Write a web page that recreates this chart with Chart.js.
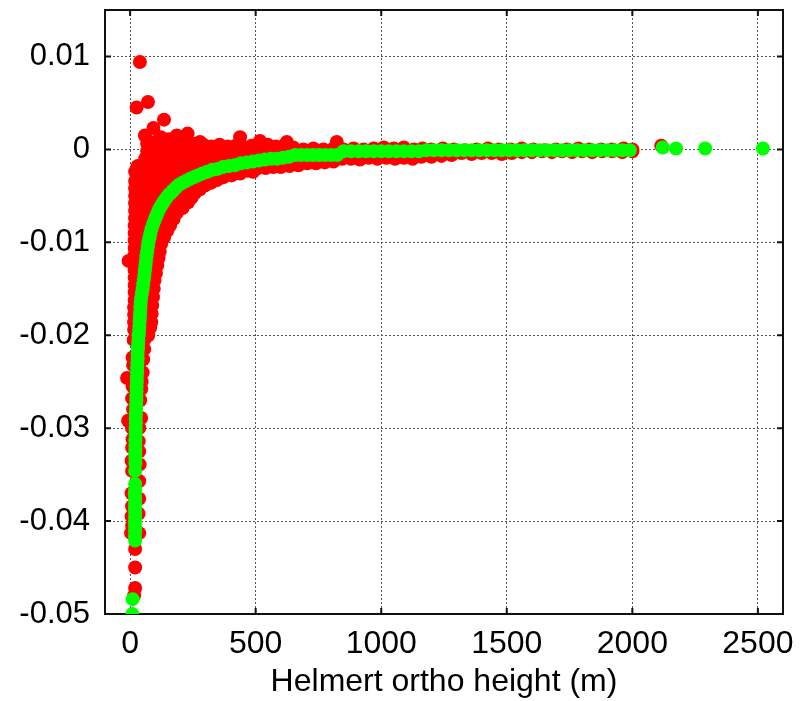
<!DOCTYPE html>
<html>
<head>
<meta charset="utf-8">
<script src="https://cdn.jsdelivr.net/npm/chart.js@4"></script>
<style>
  html, body { margin: 0; padding: 0; background: #fff; }
  canvas { display: block; }
</style>
</head>
<body>
<canvas id="chart" width="808" height="701"></canvas>
<script>
// eixos
const xTicks = [0, 500, 1000, 1500, 2000, 2500];
const xTickLabels = ['0', '500', '1000', '1500', '2000', '2500'];
const yTicks = [-0.05, -0.04, -0.03, -0.02, -0.01, 0, 0.01];
const yTickLabels = ['-0.05', '-0.04', '-0.03', '-0.02', '-0.01', '0', '0.01'];
const xTitle = 'Helmert ortho height (m)';

// pontos verdes [altura, valor]
const greenPts = [
  [9,-0.0500],[10,-0.0484],
  [20,-0.0421],[19,-0.0416],[20,-0.0411],[20,-0.0406],[19,-0.0401],[20,-0.0396],[20,-0.0391],[19,-0.0386],[20,-0.0381],[20,-0.0376],[19,-0.0371],[20,-0.0367],
  [20,-0.0360],[20,-0.0346],
  [21,-0.0338],[21,-0.0333],[20,-0.0328],[21,-0.0323],[21,-0.0318],[21,-0.0313],[22,-0.0308],[22,-0.0304],
  [22,-0.0300],[23,-0.0295],[22,-0.0290],[23,-0.0285],[24,-0.0280],[24,-0.0275],[25,-0.0270],[25,-0.0265],[26,-0.0260],[26,-0.0255],
  [27,-0.0250],[27,-0.0245],[28,-0.0240],[28,-0.0235],[29,-0.0230],[30,-0.0225],[30,-0.0220],[31,-0.0215],[32,-0.0210],[33,-0.0205],
  [34,-0.0200],[36,-0.0195],[37,-0.0190],[38,-0.0185],[39,-0.0180],[40,-0.0175],[41,-0.0170],[42,-0.0165],[44,-0.0160],[47,-0.0155],
  [50,-0.0150],[52,-0.0145],[55,-0.0140],[57,-0.0135],[59,-0.0130],[61,-0.0125],[63,-0.0120],[65,-0.0115],[68,-0.0110],[70,-0.0105],
  [73,-0.0100],[77,-0.0095],[81,-0.0090],[86,-0.0085],[92,-0.0080],[98,-0.0076],[104,-0.0072],[110,-0.0068],[116,-0.0064],[123,-0.0061],
  [130,-0.0058],[137,-0.0055],[145,-0.0052],[153,-0.0049],[162,-0.0047],[172,-0.0044],[183,-0.0041],[195,-0.0038],[208,-0.0036],[222,-0.0034],
  [237,-0.0032],[253,-0.0030],[270,-0.0028],[288,-0.0026],[307,-0.0024],[327,-0.0022],[348,-0.0021],[370,-0.0019],[393,-0.0018],[417,-0.0017],
  [441,-0.0015],[465,-0.0014],[489,-0.0013],[513,-0.0012],[537,-0.0011],[561,-0.0010],[585,-0.0010],[609,-0.0009],[633,-0.0008],
  [657,-0.0006],[681,-0.0006],[705,-0.0006],[729,-0.0006],[753,-0.0006],[777,-0.0006],[801,-0.0006],[825,-0.0006],
  [850,-0.0002],[880,-0.0002],[910,-0.0002],[940,-0.0002],[970,-0.0002],[1000,-0.0002],[1030,-0.0002],[1060,-0.0002],[1090,-0.0002],[1120,-0.0002],[1150,-0.0002],
  [1180,-0.0001],[1210,-0.0001],[1240,-0.0001],[1270,-0.0001],[1300,-0.0001],[1330,-0.0001],[1360,-0.0001],[1390,-0.0001],[1420,-0.0001],[1450,-0.0001],
  [1480,-0.0001],[1510,-0.0001],[1540,-0.0001],[1570,-0.0001],[1600,-0.0001],[1630,-0.0001],[1660,-0.0001],[1690,-0.0001],[1720,-0.0001],[1750,-0.0001],
  [1780,-0.0001],[1810,-0.0001],[1840,-0.0001],[1870,-0.0001],[1900,-0.0001],[1930,-0.0001],[1960,-0.0001],[1990,-0.0001],
  [2121,0.0002],[2174,0.0001],[2290,0.0001],[2520,0.0001]
];

// pontos vermelhos [altura, valor]
const redPts = [
  // acima
  [39,0.0094],[26,0.0045],[71,0.0051],[135,0.0032],[93,0.0023],[59,0.0015],[122,0.0013],[186,0.0015],[229,0.0017],[155,0.0011],
  [278,0.0008],[438,0.0013],[517,0.0009],[624,0.0008],[823,0.0008],
  [68,0.0006],[100,0.0008],[132,0.0005],[164,0.0007],[196,0.0006],[228,0.0004],[260,0.0006],[292,0.0005],[324,0.0003],[356,0.0005],
  [388,0.0003],[420,0.0004],[452,0.0002],[484,0.0004],[516,0.0003],[548,0.0005],[580,0.0003],[612,0.0004],
  [650,0.0002],[690,0.0000],[730,0.0001],[770,0.0000],[810,0.0001],[850,0.0000],[890,0.0001],[930,0.0000],[970,0.0001],[1010,0.0002],
  [1050,0.0001],[1090,0.0002],[1130,0.0000],[1165,0.0001],
  [1200,0.0000],[1245,0.0001],[1290,0.0000],[1335,-0.0001],[1380,0.0000],[1425,0.0001],[1470,0.0000],[1515,0.0000],[1560,0.0001],[1605,0.0000],
  [1650,-0.0001],[1695,0.0000],[1740,0.0000],[1785,0.0001],[1830,0.0000],[1875,0.0000],[1920,0.0000],[1965,0.0001],[2000,0.0000],[2115,0.0004],
  // dentro da curva
  [68,-0.0002],[100,-0.0002],[132,-0.0003],[164,-0.0002],[196,-0.0002],[228,-0.0003],[260,-0.0002],[292,-0.0002],[324,-0.0003],[356,-0.0002],
  [388,-0.0002],[420,-0.0003],[452,-0.0002],[484,-0.0002],[516,-0.0003],[548,-0.0002],[580,-0.0002],[612,-0.0003],
  [60,-0.0010],[92,-0.0010],[124,-0.0010],[156,-0.0010],[188,-0.0010],[220,-0.0010],[252,-0.0010],[284,-0.0010],[316,-0.0010],[348,-0.0010],
  [380,-0.0010],[412,-0.0010],[444,-0.0010],[476,-0.0010],[508,-0.0010],[540,-0.0010],
  [30,-0.0018],[62,-0.0018],[94,-0.0018],[126,-0.0018],[158,-0.0018],[190,-0.0018],[222,-0.0018],[254,-0.0018],[286,-0.0018],[318,-0.0018],
  [350,-0.0018],[382,-0.0018],
  [20,-0.0024],[56,-0.0026],[88,-0.0026],[120,-0.0026],[152,-0.0026],[184,-0.0026],[216,-0.0026],[248,-0.0026],[280,-0.0026],
  [20,-0.0034],[52,-0.0034],[84,-0.0034],[116,-0.0034],[148,-0.0034],[180,-0.0034],[212,-0.0034],
  [20,-0.0042],[52,-0.0042],[84,-0.0042],[116,-0.0042],[148,-0.0042],[180,-0.0042],
  [20,-0.0050],[52,-0.0050],[84,-0.0050],[116,-0.0050],[148,-0.0050],
  [20,-0.0058],[52,-0.0058],[84,-0.0058],[116,-0.0058],
  [20,-0.0066],[52,-0.0066],[84,-0.0066],[108,-0.0066],
  [20,-0.0074],[52,-0.0074],[84,-0.0074],
  [18,-0.0082],[50,-0.0082],[80,-0.0082],
  [18,-0.0090],[48,-0.0090],[74,-0.0090],
  [18,-0.0098],[46,-0.0098],[70,-0.0098],
  [18,-0.0106],[42,-0.0106],[64,-0.0106],
  [18,-0.0114],[40,-0.0114],[62,-0.0114],
  [-6,-0.0120],[18,-0.0122],[38,-0.0122],[58,-0.0122],
  [18,-0.0130],[36,-0.0130],[56,-0.0130],
  [18,-0.0138],[34,-0.0138],[52,-0.0138],
  [18,-0.0146],[32,-0.0146],[50,-0.0146],
  [18,-0.0154],[30,-0.0154],
  [18,-0.0162],[30,-0.0162],
  [16,-0.0170],[30,-0.0170],
  [16,-0.0178],[28,-0.0178],
  [16,-0.0186],[28,-0.0186],
  [16,-0.0194],[28,-0.0194],
  // parte vertical
  [14,-0.0205],[10,-0.0224],[-12,-0.0246],[8,-0.0268],[-8,-0.0292],[8,-0.0300],[8,-0.0321],[6,-0.0335],[8,-0.0346],[6,-0.0370],
  [8,-0.0384],[6,-0.0395],[4,-0.0413],[8,-0.0405],[12,-0.0232],[10,-0.0255],[12,-0.0280],[10,-0.0312],
  [58,-0.0204],[56,-0.0215],[52,-0.0226],[50,-0.0240],[46,-0.0250],[44,-0.0258],[40,-0.0270],[44,-0.0289],[36,-0.0300],[34,-0.0314],
  [36,-0.0325],[38,-0.0339],[36,-0.0357],[36,-0.0376],[34,-0.0392],[36,-0.0413],
  [20,-0.0430],[20,-0.0450],[20,-0.0472],[16,-0.0480],
  // abaixo / fora da curva
  [72,-0.0200],[80,-0.0192],[84,-0.0186],[86,-0.0177],[88,-0.0168],[91,-0.0159],[94,-0.0150],[97,-0.0141],[103,-0.0133],[108,-0.0125],
  [113,-0.0117],[118,-0.0110],[123,-0.0102],[135,-0.0095],[147,-0.0088],[159,-0.0082],[173,-0.0075],[187,-0.0068],[209,-0.0063],[231,-0.0057],
  [245,-0.0052],[258,-0.0047],[278,-0.0043],[298,-0.0039],[322,-0.0036],[346,-0.0033],[370,-0.0030],[404,-0.0028],[438,-0.0026],[468,-0.0023],
  [490,-0.0024],[510,-0.0020],[540,-0.0020],[570,-0.0019],[600,-0.0019],[635,-0.0018],[670,-0.0017],[705,-0.0015],[740,-0.0015],[775,-0.0014],
  [810,-0.0013],[845,-0.0010],[880,-0.0010],[915,-0.0011],[950,-0.0009],[985,-0.0010],[1020,-0.0009],[1055,-0.0010],[1090,-0.0009],[1125,-0.0010],
  [1160,-0.0008],[1200,-0.0008],[1240,-0.0007],[1280,-0.0006],[1320,-0.0004],[1360,-0.0005],[1400,-0.0004],[1440,-0.0004],[1480,-0.0005],[1520,-0.0004],
  [1560,-0.0003],[1600,-0.0003],[1640,-0.0002],[1680,-0.0003],[1720,-0.0002],[1760,-0.0003],[1800,-0.0002],[1840,-0.0003],[1880,-0.0002],[1920,-0.0002],
  [1960,-0.0003],[2000,-0.0002],
  [110,-0.0089],[128,-0.0078],[141,-0.0071],[155,-0.0065],[171,-0.0058],[190,-0.0053],[213,-0.0047],[240,-0.0040],[275,-0.0035],[305,-0.0031],
  [348,-0.0026],[395,-0.0023],[442,-0.0020]
];

const fontFam = '"Liberation Sans", Arial, sans-serif';

// moldura preta com marcas para dentro
const frame = {
  id: 'frame',
  beforeDatasetsDraw(chart) {
    const { ctx, chartArea: a, scales: { x, y } } = chart;
    ctx.save();
    ctx.strokeStyle = '#111';
    ctx.lineWidth = 2;
    ctx.strokeRect(a.left, a.top, a.right - a.left, a.bottom - a.top);
    ctx.beginPath();
    xTicks.forEach(v => {
      const px = x.getPixelForValue(v);
      ctx.moveTo(px, a.bottom); ctx.lineTo(px, a.bottom - 6);
      ctx.moveTo(px, a.top); ctx.lineTo(px, a.top + 6);
    });
    yTicks.forEach(v => {
      const py = y.getPixelForValue(v);
      ctx.moveTo(a.left, py); ctx.lineTo(a.left + 6, py);
      ctx.moveTo(a.right, py); ctx.lineTo(a.right - 6, py);
    });
    ctx.stroke();
    ctx.restore();
  }
};

const toXY = pts => pts.map(p => ({ x: p[0], y: p[1] }));

new Chart(document.getElementById('chart').getContext('2d'), {
  type: 'scatter',
  data: {
    datasets: [
      {
        label: 'modelo',
        data: toXY(greenPts),
        backgroundColor: '#00ff00',
        borderWidth: 0,
        pointRadius: 7,
        order: 0
      },
      {
        label: 'observado',
        data: toXY(redPts),
        backgroundColor: '#ff0000',
        borderWidth: 0,
        pointRadius: 7,
        order: 1
      }
    ]
  },
  options: {
    responsive: false,
    animation: false,
    layout: { padding: { top: 10, right: 25, left: 0, bottom: 0 } },
    plugins: { legend: { display: false }, tooltip: { enabled: false } },
    scales: {
      x: {
        type: 'linear',
        min: -100,
        max: 2600,
        afterBuildTicks: s => { s.ticks = xTicks.map(v => ({ value: v })); },
        afterFit: s => { s.height = 87; s.paddingLeft = 0; s.paddingRight = 0; },
        ticks: {
          color: '#000',
          font: { family: fontFam, size: 32 },
          padding: 11,
          maxRotation: 0,
          callback: (v, i) => xTickLabels[i]
        },
        grid: { color: '#555', lineWidth: 1, drawTicks: false },
        border: { display: false, dash: [2, 2] },
        title: {
          display: true,
          text: xTitle,
          color: '#000',
          font: { family: fontFam, size: 32 },
          padding: { top: 0, bottom: 0 }
        }
      },
      y: {
        type: 'linear',
        min: -0.05,
        max: 0.015,
        afterBuildTicks: s => { s.ticks = yTicks.map(v => ({ value: v })); },
        afterFit: s => { s.width = 105; s.paddingTop = 0; s.paddingBottom = 0; },
        ticks: {
          color: '#000',
          font: { family: fontFam, size: 31 },
          padding: 15,
          callback: (v, i) => yTickLabels[i]
        },
        grid: { color: '#555', lineWidth: 1, drawTicks: false },
        border: { display: false, dash: [2, 2] }
      }
    }
  },
  plugins: [frame]
});
</script>
</body>
</html>
